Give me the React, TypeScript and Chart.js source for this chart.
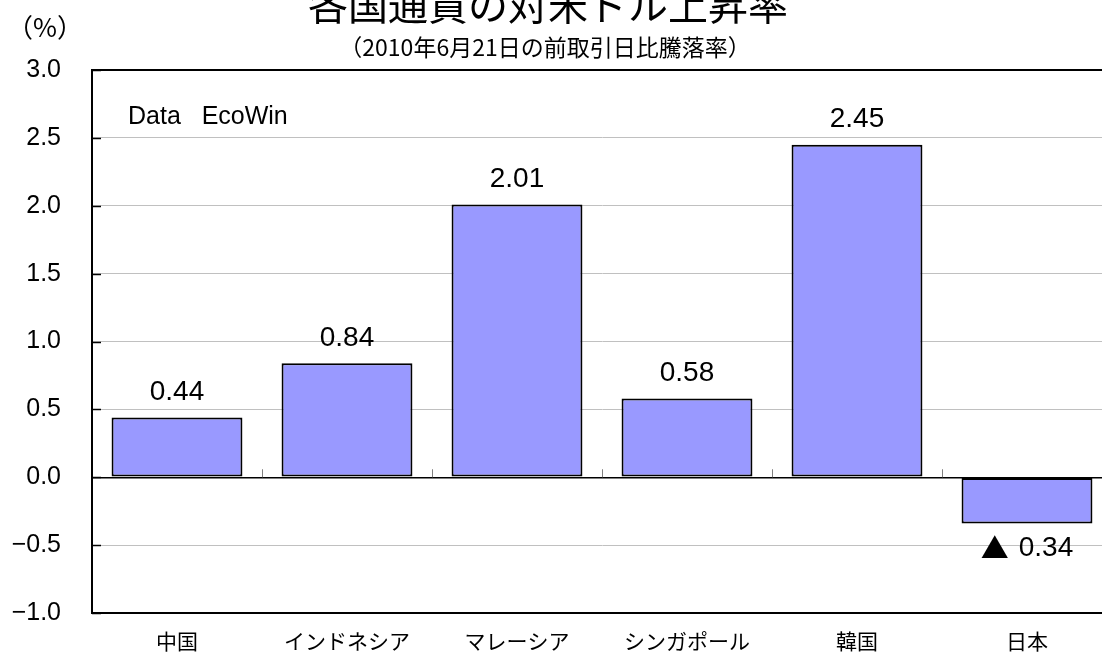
import React, { useEffect, useRef } from "react";
import { Chart, registerables } from "chart.js";

Chart.register(...registerables);

const categories = ["中国", "インドネシア", "マレーシア", "シンガポール", "韓国", "日本"];
const values = [0.44, 0.84, 2.01, 0.58, 2.45, -0.34];
const yMin = -1.0;
const yMax = 3.0;
const yStep = 0.5;
const titleText = "各国通貨の対米ドル上昇率";
const subtitleText = "（2010年6月21日の前取引日比騰落率）";
const unitText = "（%）";
const sourceText = "Data   EcoWin";
const negMark = "▲";

const NUM_FONT = "'Liberation Sans', Arial, sans-serif";
const CJK_FONT = "'Noto Sans CJK JP', sans-serif";

const fmtTick = (v: number) => (v < 0 ? "\u2212" + Math.abs(v).toFixed(1) : v.toFixed(1));

const decorPlugin = {
  id: "decor",
  afterDatasetsDraw(chart: any) {
    const ctx = chart.ctx;
    const meta = chart.getDatasetMeta(0);
    ctx.save();
    ctx.fillStyle = "#000";
    ctx.textBaseline = "middle";
    meta.data.forEach((bar: any, i: number) => {
      const v = values[i];
      const num = Math.abs(v).toFixed(2);
      if (v >= 0) {
        ctx.font = `28px ${NUM_FONT}`;
        ctx.textAlign = "center";
        ctx.fillText(num, bar.x, bar.y - 25);
      } else {
        const py = bar.y + 25;
        ctx.font = `28px ${CJK_FONT}`;
        const wMark = ctx.measureText(negMark).width;
        ctx.font = `28px ${NUM_FONT}`;
        const wNum = ctx.measureText(num).width;
        const gap = 10;
        const total = wMark + gap + wNum;
        let x0 = bar.x - total / 2;
        ctx.textAlign = "left";
        ctx.font = `28px ${CJK_FONT}`;
        ctx.fillText(negMark, x0, py);
        ctx.font = `28px ${NUM_FONT}`;
        ctx.fillText(num, x0 + wMark + gap, py);
      }
    });
    ctx.restore();
  },
  afterDraw(chart: any) {
    const ctx = chart.ctx;
    const { left, top } = chart.chartArea;
    const ys = chart.scales.y;
    const xs = chart.scales.x;
    ctx.save();
    // inward y tick marks
    ctx.strokeStyle = "#000";
    ctx.lineWidth = 1.5;
    ys.ticks.forEach((t: any) => {
      const py = Math.round(ys.getPixelForValue(t.value)) + 0.5;
      ctx.beginPath();
      ctx.moveTo(left, py);
      ctx.lineTo(left + 9, py);
      ctx.stroke();
    });
    // category boundary ticks on the zero line
    const zy = ys.getPixelForValue(0);
    ctx.strokeStyle = "#808080";
    ctx.lineWidth = 1;
    for (let i = 1; i < categories.length; i++) {
      const px = Math.round((xs.getPixelForValue(i - 1) + xs.getPixelForValue(i)) / 2) + 0.5;
      ctx.beginPath();
      ctx.moveTo(px, zy);
      ctx.lineTo(px, zy - 8);
      ctx.stroke();
    }
    // texts
    ctx.fillStyle = "#000";
    ctx.textAlign = "center";
    ctx.textBaseline = "alphabetic";
    ctx.font = `40px ${CJK_FONT}`;
    ctx.fillText(titleText, 548, 20);
    ctx.textBaseline = "middle";
    ctx.font = `23px ${CJK_FONT}`;
    ctx.fillText(subtitleText, 545, 47);
    ctx.font = `26px ${CJK_FONT}`;
    ctx.fillText(unitText, 45, 27);
    ctx.textAlign = "left";
    ctx.font = `25px ${NUM_FONT}`;
    ctx.fillText(sourceText, 128, top + 47);
    ctx.restore();
  },
};

export default function App() {
  const ref = useRef<HTMLCanvasElement | null>(null);
  useEffect(() => {
    document.body.style.overflow = "hidden";
    const canvas = ref.current;
    if (!canvas) return;
    const chart = new Chart(canvas, {
      type: "bar",
      data: {
        labels: categories,
        datasets: [
          {
            data: values,
            backgroundColor: "#9999FF",
            borderColor: "#000",
            borderWidth: 2,
            borderSkipped: false,
            categoryPercentage: 1,
            barPercentage: 0.77,
          },
        ],
      },
      options: {
        animation: false,
        responsive: false,
        devicePixelRatio: 1,
        layout: { padding: { top: 70, right: 18, bottom: 0, left: 0 } },
        plugins: { legend: { display: false }, tooltip: { enabled: false }, title: { display: false } },
        scales: {
          x: {
            grid: { display: false },
            border: { display: true, color: "#000", width: 2 },
            ticks: { color: "#000", font: { family: CJK_FONT, size: 21 }, padding: 7, maxRotation: 0, autoSkip: false },
            afterFit: (s: any) => {
              s.height = 40;
            },
          },
          y: {
            min: yMin,
            max: yMax,
            ticks: {
              stepSize: yStep,
              color: "#000",
              font: { family: NUM_FONT, size: 25 },
              padding: 0,
              callback: (v: any) => fmtTick(Number(v)),
            },
            grid: {
              drawTicks: true,
              tickLength: 31,
              tickColor: "rgba(0,0,0,0)",
              color: (c: any) => (c.tick && (c.tick.value === 0 || c.tick.value === yMax) ? "#000" : "#c0c0c0"),
              lineWidth: (c: any) => (c.tick && c.tick.value === yMax ? 2 : c.tick && c.tick.value === 0 ? 1.5 : 1),
            },
            border: { display: true, color: "#000", width: 2 },
            afterFit: (s: any) => {
              s.width = 92;
            },
          },
        },
      },
      plugins: [decorPlugin],
    });
    return () => chart.destroy();
  }, []);
  return <canvas ref={ref} width={1130} height={653} style={{ position: "absolute", left: 0, top: 0 }} />;
}
